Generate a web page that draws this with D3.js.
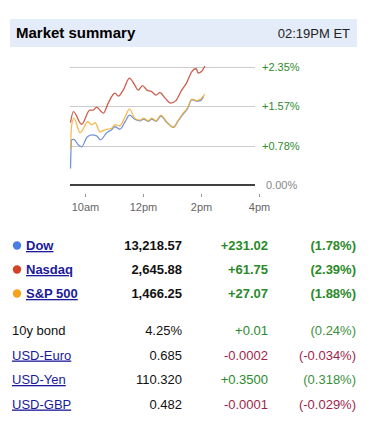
<!DOCTYPE html>
<html>
<head>
<meta charset="utf-8">
<script src="https://cdn.jsdelivr.net/npm/d3@7"></script>
<style>
  body { margin: 0; background: #fff; font-family: Arial, "Liberation Sans", sans-serif; }
  svg text { font-family: Arial, "Liberation Sans", sans-serif; }
</style>
</head>
<body>
<svg id="viz" width="377" height="429"></svg>
<script>
// minutes after the 9:30 open, percent change
const dowPts = [[0,0.33],[2,0.90],[7,0.91],[16,0.80],[23,0.76],[34,0.95],[44,1.00],[54,0.98],[62,0.90],[75,1.04],[85,1.10],[92,1.16],[102,1.11],[113,1.26],[122,1.39],[133,1.31],[144,1.28],[151,1.31],[161,1.27],[168,1.31],[177,1.27],[187,1.37],[199,1.25],[213,1.15],[223,1.28],[233,1.41],[242,1.52],[251,1.70],[261,1.67],[269,1.68],[275,1.76]];
const nasdaqPts = [[0,1.24],[6,1.46],[23,1.21],[40,1.49],[47,1.49],[54,1.55],[61,1.49],[68,1.43],[78,1.63],[92,1.83],[99,1.77],[109,1.89],[122,2.13],[133,1.99],[140,1.89],[149,1.98],[158,1.89],[168,1.86],[177,1.79],[185,1.84],[196,1.73],[207,1.63],[218,1.68],[230,1.89],[240,2.03],[251,2.26],[260,2.32],[264,2.23],[271,2.26],[278,2.37]];
const spPts = [[0,0.70],[2,1.15],[7,1.33],[20,1.04],[36,1.26],[44,1.20],[51,1.24],[61,1.06],[71,1.10],[85,1.13],[92,1.20],[102,1.18],[113,1.36],[122,1.51],[133,1.33],[144,1.29],[151,1.33],[161,1.28],[168,1.33],[177,1.28],[187,1.39],[199,1.26],[213,1.15],[223,1.29],[233,1.43],[242,1.53],[251,1.71],[261,1.68],[269,1.71],[278,1.81]];

const gridPcts = [0, 0.78, 1.57, 2.35];
const gridLabels = ['0.00%', '+0.78%', '+1.57%', '+2.35%'];
const tickMinutes = [30, 150, 270, 390];
const tickLabels = ['10am', '12pm', '2pm', '4pm'];

const indexNames = ['Dow', 'Nasdaq', 'S&P 500'];
const indexColors = ['#4a7ee0', '#d4422a', '#f5a31c'];
const indexValues = ['13,218.57', '2,645.88', '1,466.25'];
const indexChanges = ['+231.02', '+61.75', '+27.07'];
const indexPcts = ['(1.78%)', '(2.39%)', '(1.88%)'];

const otherNames = ['10y bond', 'USD-Euro', 'USD-Yen', 'USD-GBP'];
const otherLinks = [false, true, true, true];
const otherValues = ['4.25%', '0.685', '110.320', '0.482'];
const otherChanges = ['+0.01', '-0.0002', '+0.3500', '-0.0001'];
const otherPcts = ['(0.24%)', '(-0.034%)', '(0.318%)', '(-0.029%)'];

const svg = d3.select('#viz');

// header bar
svg.append('rect').attr('x', 10).attr('y', 19).attr('width', 347).attr('height', 28).attr('fill', '#e5ecf9');
svg.append('text').attr('x', 16).attr('y', 38).attr('font-size', 15).attr('font-weight', 'bold').attr('fill', '#000').text('Market summary');
svg.append('text').attr('x', 350).attr('y', 38).attr('font-size', 13).attr('text-anchor', 'end').attr('fill', '#222').text('02:19PM ET');

// chart
const x = d3.scaleLinear().domain([0, 390]).range([70.5, 259]);
const y = d3.scaleLinear().domain([0, 2.35]).range([185, 67]);

const chart = svg.append('g');

chart.selectAll('.grid')
  .data(gridPcts.slice(1))
  .enter()
    .append('line')
    .attr('class', 'grid')
    .attr('x1', 70).attr('x2', 255)
    .attr('y1', d => Math.round(y(d)) + 0.5).attr('y2', d => Math.round(y(d)) + 0.5)
    .attr('stroke', '#cccccc');

chart.append('line')
  .attr('x1', 70).attr('x2', 255)
  .attr('y1', y(0)).attr('y2', y(0))
  .attr('stroke', '#000').attr('stroke-width', 1.5);

chart.selectAll('.glabel')
  .data(gridPcts)
  .enter()
    .append('text')
    .attr('class', 'glabel')
    .attr('x', (d, i) => i === 0 ? 266 : 262)
    .attr('y', d => y(d) + 4)
    .attr('font-size', 11)
    .attr('fill', (d, i) => i === 0 ? '#888' : '#2e8b2e')
    .text((d, i) => gridLabels[i]);

const xAxis = d3.axisBottom(x)
  .tickValues(tickMinutes)
  .tickFormat((d, i) => tickLabels[i])
  .tickSize(3)
  .tickPadding(6);

const gx = chart.append('g').attr('transform', 'translate(0,194)').call(xAxis);
gx.select('.domain').remove();
gx.selectAll('.tick line').attr('stroke', '#999');
gx.selectAll('.tick text').attr('font-size', 11).attr('fill', '#666').attr('font-family', 'Arial, "Liberation Sans", sans-serif');

const line = d3.line()
  .x(d => x(d[0]))
  .y(d => y(d[1]))
  .curve(d3.curveMonotoneX);

const series = [
  { pts: dowPts, color: '#5b7fd4' },
  { pts: spPts, color: '#f2b035' },
  { pts: nasdaqPts, color: '#c8402c' }
];

chart.selectAll('.series')
  .data(series)
  .enter()
    .append('path')
    .attr('class', 'series')
    .attr('d', d => line(d.pts))
    .attr('fill', 'none')
    .attr('stroke', d => d.color)
    .attr('stroke-width', 1.3)
    .attr('stroke-opacity', 0.85);

// index table
const green = '#2a8a2a';
const red = '#a01f4c';
const linkColor = '#1a1a9a';

const idx = svg.selectAll('.idx')
  .data(indexNames)
  .enter()
    .append('g')
    .attr('class', 'idx')
    .attr('transform', (d, i) => `translate(0, ${250 + i * 24})`);

idx.append('circle').attr('cx', 17).attr('cy', -4.5).attr('r', 4.2).attr('fill', (d, i) => indexColors[i]);
idx.append('text').attr('x', 26).attr('font-size', 13).attr('font-weight', 'bold')
  .attr('fill', linkColor).attr('text-decoration', 'underline').text(d => d);
idx.append('text').attr('x', 182).attr('text-anchor', 'end').attr('font-size', 13).attr('font-weight', 'bold')
  .attr('fill', '#111').text((d, i) => indexValues[i]);
idx.append('text').attr('x', 268).attr('text-anchor', 'end').attr('font-size', 13).attr('font-weight', 'bold')
  .attr('fill', green).text((d, i) => indexChanges[i]);
idx.append('text').attr('x', 356).attr('text-anchor', 'end').attr('font-size', 13).attr('font-weight', 'bold')
  .attr('fill', green).text((d, i) => indexPcts[i]);

const oth = svg.selectAll('.oth')
  .data(otherNames)
  .enter()
    .append('g')
    .attr('class', 'oth')
    .attr('transform', (d, i) => `translate(0, ${335 + i * 24.5})`);

oth.append('text').attr('x', 12).attr('font-size', 13)
  .attr('fill', (d, i) => otherLinks[i] ? linkColor : '#111')
  .attr('text-decoration', (d, i) => otherLinks[i] ? 'underline' : 'none')
  .text(d => d);
oth.append('text').attr('x', 182).attr('text-anchor', 'end').attr('font-size', 13)
  .attr('fill', '#111').text((d, i) => otherValues[i]);
oth.append('text').attr('x', 268).attr('text-anchor', 'end').attr('font-size', 13)
  .attr('fill', (d, i) => otherChanges[i][0] === '-' ? red : green).text((d, i) => otherChanges[i]);
oth.append('text').attr('x', 356).attr('text-anchor', 'end').attr('font-size', 13)
  .attr('fill', (d, i) => otherChanges[i][0] === '-' ? red : '#3a8f3a').text((d, i) => otherPcts[i]);
</script>
</body>
</html>
